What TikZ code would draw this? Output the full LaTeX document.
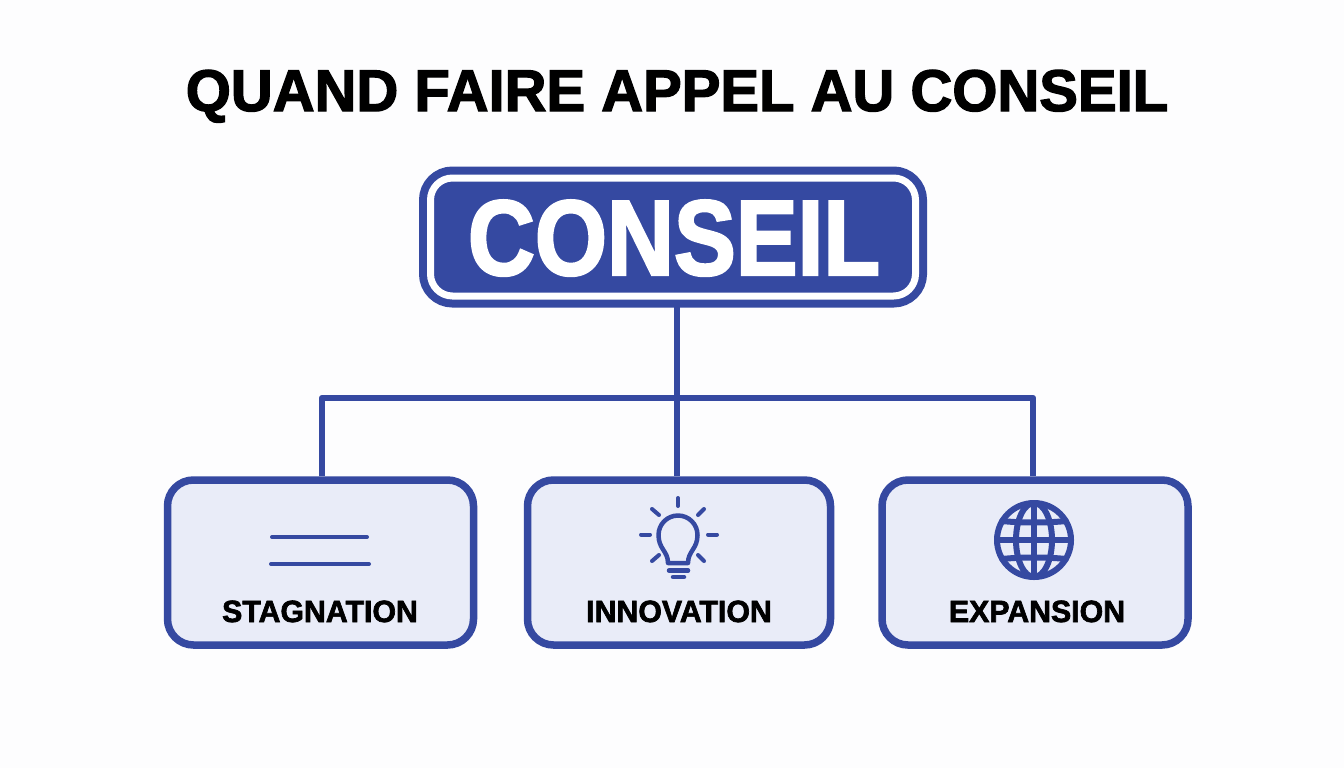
\documentclass[tikz,border=0pt]{standalone}
\usepackage{fontspec}
\usepackage{xcolor}
\setmainfont{Liberation Sans}[BoldFeatures={FakeBold=2.2}]
\newcommand{\px}{0.02cm}
\definecolor{conseilblue}{HTML}{3549A1}
\definecolor{boxfill}{HTML}{E9ECF8}
\definecolor{pagewhite}{HTML}{FDFDFE}
\usetikzlibrary{positioning}

\begin{document}
\begin{tikzpicture}[
    x=\px, y=-\px,
    rootbox/.style={rectangle, draw=conseilblue, double=white, double distance=7*\px, line width=8*\px, fill=conseilblue, rounded corners=22*\px, minimum width=485*\px, minimum height=118*\px},
    casebox/.style={rectangle, draw=conseilblue, line width=7.5*\px, fill=boxfill, rounded corners=26*\px, minimum height=165*\px},
    caselabel/.style={anchor=base, font=\fontsize{17.5}{20}\selectfont\bfseries\addfontfeature{FakeStretch=0.985}},
    link/.style={draw=conseilblue, line width=6.5*\px, line join=round},
    icon/.style={draw=conseilblue, line width=4*\px, line cap=round, line join=round}
]

% Page
\useasboundingbox[fill=pagewhite] (0,0) rectangle (1344,768);

% Title
\node[anchor=base, font=\fontsize{33.5}{40}\selectfont\bfseries\addfontfeature{FakeStretch=0.985}] (title) at (677,111) {QUAND FAIRE APPEL AU CONSEIL};

% Root
\node[rootbox] (conseil) at (673,237) {};
\node[anchor=base, text=white, font=\fontsize{61}{70}\selectfont\bfseries\addfontfeature{FakeStretch=0.865}] (conseiltext) at (674,275) {CONSEIL};

% Cases
\node[casebox, minimum width=306*\px] (stagnation) at (320.5,562.5) {};
\node[casebox, minimum width=303*\px] (innovation) at (679,562.5) {};
\node[casebox, minimum width=306*\px] (expansion) at (1035,562.5) {};

% Labels
\node[caselabel] (stagnationtext) at (320,622) {STAGNATION};
\node[caselabel] (innovationtext) at (679,622) {INNOVATION};
\node[caselabel] (expansiontext) at (1037,622) {EXPANSION};

% Connectors
\coordinate (busl) at (322,398);
\coordinate (busm) at (677,398);
\coordinate (busr) at (1033,398);
\draw[link] (conseil.south -| busm) -- (innovation.north -| busm);
\draw[link] (stagnation.north -| busl) -- (busl) -- (busr) -- (expansion.north -| busr);

% Stagnation icon
\draw[icon] (272,537) -- (367,537);
\draw[icon] (271,564) -- (369,564);

% Innovation icon
\draw[icon, line width=4.5*\px] (668,563) .. controls (668,551) and (658.5,549) .. (658.5,535) arc (180:360:19.5) .. controls (697.5,549) and (688,551) .. (688,563) -- cycle;
\draw[icon, line width=4.5*\px] (669,570.5) -- (688,570.5);
\draw[icon, line width=4.5*\px] (673,577) -- (684,577);
\draw[icon] (678,498) -- (678,506);
\draw[icon] (641,534.5) -- (650,534.5);
\draw[icon] (708,534.5) -- (717,534.5);
\draw[icon] (652,509) -- (659,515);
\draw[icon] (704,509) -- (698,515);
\draw[icon] (652,561) -- (659,555);
\draw[icon] (704,561) -- (698,555);

% Expansion icon
\begin{scope}[icon, line width=6*\px]
\draw (1034,540) circle (37);
\draw (1034,540) ellipse (18 and 37);
\draw (1034,503) -- (1034,577);
\draw (997,540) -- (1071,540);
\draw (1002,521) .. controls (1020,523) and (1048,523) .. (1066,521);
\draw (1002,559) .. controls (1020,557) and (1048,557) .. (1066,559);
\end{scope}

\end{tikzpicture}
\end{document}
